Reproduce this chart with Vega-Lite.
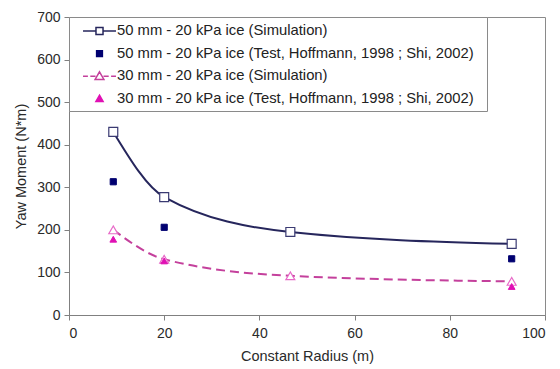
{
  "$schema": "https://vega.github.io/schema/vega-lite/v6.json",
  "width": 476,
  "height": 298,
  "autosize": "none",
  "padding": {"left": 69, "top": 17, "right": 15, "bottom": 54},
  "background": "white",
  "config": {
    "font": "Liberation Sans",
    "view": {"stroke": "#8a8a8a", "strokeWidth": 1},
    "axis": {
      "grid": false,
      "domainColor": "#808080",
      "tickColor": "#808080",
      "tickSize": 5,
      "labelFont": "Liberation Sans",
      "labelFontSize": 14,
      "labelColor": "#2a2a2a",
      "titleFont": "Liberation Sans",
      "titleFontSize": 14.5,
      "titleFontWeight": "normal",
      "titleColor": "#2a2a2a"
    }
  },
  "datasets": {
    "moments": [
      {"series": "50 mm - 20 kPa ice (Simulation)", "kind": "sim50", "r": 9.3, "m": 430},
      {"series": "50 mm - 20 kPa ice (Simulation)", "kind": "sim50", "r": 20, "m": 277},
      {"series": "50 mm - 20 kPa ice (Simulation)", "kind": "sim50", "r": 46.5, "m": 195},
      {"series": "50 mm - 20 kPa ice (Simulation)", "kind": "sim50", "r": 93, "m": 167},
      {"series": "50 mm - 20 kPa ice (Test, Hoffmann, 1998 ; Shi, 2002)", "kind": "test50", "r": 9.3, "m": 313},
      {"series": "50 mm - 20 kPa ice (Test, Hoffmann, 1998 ; Shi, 2002)", "kind": "test50", "r": 20, "m": 206},
      {"series": "50 mm - 20 kPa ice (Test, Hoffmann, 1998 ; Shi, 2002)", "kind": "test50", "r": 93, "m": 132},
      {"series": "30 mm - 20 kPa ice  (Simulation)", "kind": "sim30", "r": 9.3, "m": 200},
      {"series": "30 mm - 20 kPa ice  (Simulation)", "kind": "sim30", "r": 20, "m": 131},
      {"series": "30 mm - 20 kPa ice  (Simulation)", "kind": "sim30", "r": 46.5, "m": 92},
      {"series": "30 mm - 20 kPa ice  (Simulation)", "kind": "sim30", "r": 93, "m": 79},
      {"series": "30 mm - 20 kPa ice  (Test,  Hoffmann, 1998 ; Shi, 2002)", "kind": "test30", "r": 9.3, "m": 178},
      {"series": "30 mm - 20 kPa ice  (Test,  Hoffmann, 1998 ; Shi, 2002)", "kind": "test30", "r": 20, "m": 127},
      {"series": "30 mm - 20 kPa ice  (Test,  Hoffmann, 1998 ; Shi, 2002)", "kind": "test30", "r": 93, "m": 67}
    ]
  },
  "data": {"name": "moments"},
  "encoding": {
    "x": {
      "field": "r", "type": "quantitative",
      "scale": {"domain": [0, 100], "nice": false},
      "axis": {"values": [0, 20, 40, 60, 80, 100], "title": "Constant Radius (m)", "titlePadding": 9, "labelPadding": 6}
    },
    "y": {
      "field": "m", "type": "quantitative",
      "scale": {"domain": [0, 700], "nice": false},
      "axis": {"values": [0, 100, 200, 300, 400, 500, 600, 700], "title": "Yaw Moment (N*m)", "titlePadding": 8, "labelPadding": 4}
    }
  },
  "layer": [
    {
      "transform": [{"filter": "datum.kind === 'sim50'"}],
      "mark": {"type": "line", "interpolate": "monotone", "stroke": "#26265c", "strokeWidth": 2}
    },
    {
      "transform": [{"filter": "datum.kind === 'sim30'"}],
      "mark": {"type": "line", "interpolate": "monotone", "stroke": "#c4409c", "strokeWidth": 2, "strokeDash": [9, 5]}
    },
    {
      "transform": [{"filter": "datum.kind === 'sim50'"}],
      "mark": {"type": "point", "shape": "square", "size": 80, "opacity": 1, "filled": true, "fill": "white", "stroke": "#3a3a72", "strokeWidth": 1.2}
    },
    {
      "transform": [{"filter": "datum.kind === 'test50'"}],
      "mark": {"type": "point", "shape": "square", "size": 38, "opacity": 1, "filled": true, "fill": "#000070", "stroke": "#000070", "strokeWidth": 1}
    },
    {
      "transform": [{"filter": "datum.kind === 'sim30'"}],
      "mark": {"type": "point", "shape": "triangle-up", "size": 80, "opacity": 1, "filled": true, "fill": "white", "stroke": "#e86ac8", "strokeWidth": 1.2}
    },
    {
      "transform": [{"filter": "datum.kind === 'test30'"}],
      "mark": {"type": "point", "shape": "triangle-up", "size": 45, "opacity": 1, "filled": true, "fill": "#e010b4", "stroke": "#e010b4", "strokeWidth": 1}
    },
    {
      "description": "Legend carrier: no rows are drawn, only the key is built from its scales.",
      "transform": [{"filter": "false"}],
      "mark": {"type": "point", "size": 256, "opacity": 1, "strokeWidth": 1.5},
      "encoding": {
        "shape": {
          "field": "series", "type": "nominal",
          "scale": {
            "domain": ["50 mm - 20 kPa ice (Simulation)", "50 mm - 20 kPa ice (Test, Hoffmann, 1998 ; Shi, 2002)", "30 mm - 20 kPa ice  (Simulation)", "30 mm - 20 kPa ice  (Test,  Hoffmann, 1998 ; Shi, 2002)"],
            "range": [
              "M-2.06,0H-0.44M0.44,0H2.06M-0.44,-0.44H0.44V0.44H-0.44Z",
              "M-0.36,-0.36H0.36V0.36H-0.36Z",
              "M-2.06,0H-1.45M-1.15,0H-0.5M0.5,0H1.15M1.45,0H2.06M0,-0.55L0.55,0.4H-0.55Z",
              "M0,-0.45L0.45,0.35H-0.45Z"
            ]
          },
          "legend": {
            "orient": "top-left", "offset": 0, "title": null,
            "fillColor": "white", "strokeColor": "#8a8a8a", "padding": 5,
            "rowPadding": 6.6, "symbolSize": 256, "symbolOffset": 16.5, "labelOffset": 8.5,
            "labelFont": "Liberation Sans", "labelFontSize": 14.8, "labelColor": "#222222", "labelLimit": 500,
            "symbolStrokeWidth": 1.5
          }
        },
        "fill": {
          "field": "series", "type": "nominal",
          "scale": {
            "domain": ["50 mm - 20 kPa ice (Simulation)", "50 mm - 20 kPa ice (Test, Hoffmann, 1998 ; Shi, 2002)", "30 mm - 20 kPa ice  (Simulation)", "30 mm - 20 kPa ice  (Test,  Hoffmann, 1998 ; Shi, 2002)"],
            "range": ["white", "#000070", "white", "#e010b4"]
          }
        },
        "stroke": {
          "field": "series", "type": "nominal",
          "scale": {
            "domain": ["50 mm - 20 kPa ice (Simulation)", "50 mm - 20 kPa ice (Test, Hoffmann, 1998 ; Shi, 2002)", "30 mm - 20 kPa ice  (Simulation)", "30 mm - 20 kPa ice  (Test,  Hoffmann, 1998 ; Shi, 2002)"],
            "range": ["#26265c", "#000070", "#c4409c", "#e010b4"]
          }
        }
      }
    }
  ]
}
